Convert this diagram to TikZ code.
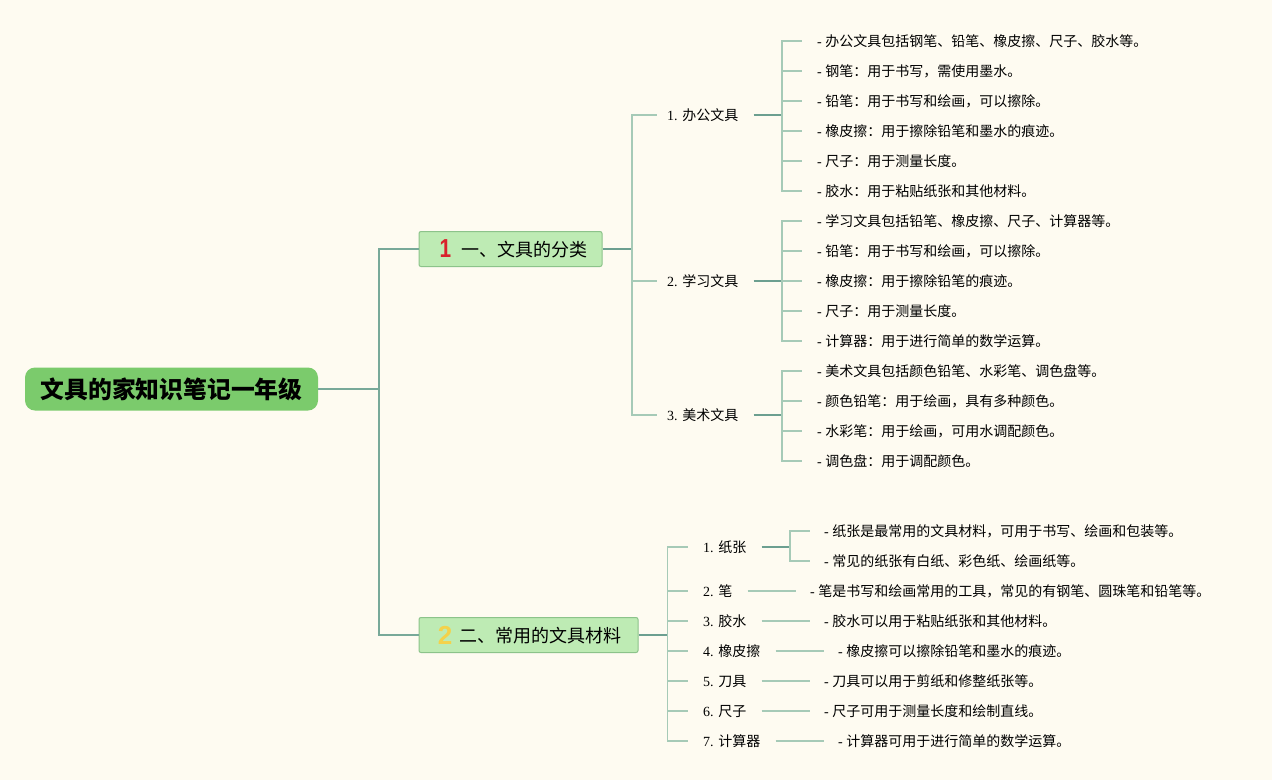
\documentclass[tikz,border=0pt]{standalone}
\usepackage{graphicx}
\usepackage{fontspec}
\setmainfont{Liberation Serif}
\newfontfamily\cjk{Noto Sans CJK SC}
\newfontfamily\numfont{Liberation Sans}
\definecolor{bg}{HTML}{FEFBF1}
\definecolor{rootfill}{HTML}{7BCB6C}
\definecolor{boxfill}{HTML}{BEEBB4}
\definecolor{boxdraw}{HTML}{8CC38A}
\definecolor{dk}{HTML}{6C9F90}
\definecolor{lt}{HTML}{A6CAB7}
\definecolor{mid}{HTML}{78A999}
\definecolor{numred}{HTML}{D9222C}
\definecolor{numyel}{HTML}{F4D24A}
\tikzset{
  rootbox/.style={draw=none, fill=rootfill, rounded corners=10pt, minimum width=293pt, minimum height=43pt, inner sep=0pt, font=\cjk\bfseries\fontsize{23.8}{26}\selectfont},
  topicbox/.style={draw=boxdraw, line width=1pt, fill=boxfill, rounded corners=2pt, minimum height=35pt, inner sep=0pt, font=\cjk\fontsize{18}{20}\selectfont},
  sub/.style={anchor=west, inner sep=0pt, text height=14pt, text depth=3pt, font=\fontsize{14}{16}\selectfont},
  leaf/.style={anchor=west, inner sep=0pt, text height=14pt, text depth=3pt, font=\fontsize{14}{16}\selectfont},
  dkline/.style={draw=dk, line width=2pt},
  ltline/.style={draw=lt, line width=1.5pt},
  midline/.style={draw=mid, line width=2pt},
}
\newcommand\cj[1]{{\cjk #1}}
\newcommand\bignum[2]{{\numfont\bfseries\fontsize{26}{26}\selectfont\color{#1}#2}}
\begin{document}
\begin{tikzpicture}[x=1pt,y=-1pt]
\fill[bg] (0,0) rectangle (1272,780);
\useasboundingbox (0,0) rectangle (1272,780);

% root and topics
\node[rootbox] (root) at (171.5,389) {文具的家知识笔记一年级};
\node[topicbox, minimum width=183pt] (t1) at (510.5,249) {\hspace{6pt}\raisebox{-1.5pt}{\scalebox{0.8}[1]{\bignum{numred}{1}}}\hspace{10pt}一、文具的分类};
\node[topicbox, minimum width=219pt] (t2) at (528.5,635) {\hspace{2pt}\raisebox{-1.5pt}{\bignum{numyel}{2}}\hspace{7pt}二、常用的文具材料};

\coordinate (j0) at (379,389);
\draw[midline] (root.east) -- (j0);
\draw[midline] (j0) |- (t1.west);
\draw[midline] (j0) |- (t2.west);

% topic 1 subtopics
\node[sub] (s1) at (667,115) {1. \cj{办公文具}};
\node[sub] (s2) at (667,281) {2. \cj{学习文具}};
\node[sub] (s3) at (667,415) {3. \cj{美术文具}};
\coordinate (j1) at (632,249);
\draw[dkline] (t1.east) -- (j1);
\foreach \s in {s1,s2,s3} \draw[ltline] (j1) |- ([xshift=-10pt]\s.west);

% leaves of s1
\node[leaf] (a1) at (817,41) {- \cj{办公文具包括钢笔、铅笔、橡皮擦、尺子、胶水等。}};
\node[leaf] (a2) at (817,71) {- \cj{钢笔：用于书写，需使用墨水。}};
\node[leaf] (a3) at (817,101) {- \cj{铅笔：用于书写和绘画，可以擦除。}};
\node[leaf] (a4) at (817,131) {- \cj{橡皮擦：用于擦除铅笔和墨水的痕迹。}};
\node[leaf] (a5) at (817,161) {- \cj{尺子：用于测量长度。}};
\node[leaf] (a6) at (817,191) {- \cj{胶水：用于粘贴纸张和其他材料。}};
\coordinate (k1) at (782,115);
\draw[dkline] ([xshift=15pt]s1.east) -- (k1);
\foreach \l in {a1,a2,a3,a4,a5,a6} \draw[ltline] (k1) |- ([xshift=-15pt]\l.west);

% leaves of s2
\node[leaf] (b1) at (817,221) {- \cj{学习文具包括铅笔、橡皮擦、尺子、计算器等。}};
\node[leaf] (b2) at (817,251) {- \cj{铅笔：用于书写和绘画，可以擦除。}};
\node[leaf] (b3) at (817,281) {- \cj{橡皮擦：用于擦除铅笔的痕迹。}};
\node[leaf] (b4) at (817,311) {- \cj{尺子：用于测量长度。}};
\node[leaf] (b5) at (817,341) {- \cj{计算器：用于进行简单的数学运算。}};
\coordinate (k2) at (782,281);
\draw[dkline] ([xshift=15pt]s2.east) -- (k2);
\foreach \l in {b1,b2,b3,b4,b5} \draw[ltline] (k2) |- ([xshift=-15pt]\l.west);

% leaves of s3
\node[leaf] (c1) at (817,371) {- \cj{美术文具包括颜色铅笔、水彩笔、调色盘等。}};
\node[leaf] (c2) at (817,401) {- \cj{颜色铅笔：用于绘画，具有多种颜色。}};
\node[leaf] (c3) at (817,431) {- \cj{水彩笔：用于绘画，可用水调配颜色。}};
\node[leaf] (c4) at (817,461) {- \cj{调色盘：用于调配颜色。}};
\coordinate (k3) at (782,415);
\draw[dkline] ([xshift=15pt]s3.east) -- (k3);
\foreach \l in {c1,c2,c3,c4} \draw[ltline] (k3) |- ([xshift=-15pt]\l.west);

% topic 2 subtopics
\node[sub] (u1) at (703,547) {1. \cj{纸张}};
\node[sub] (u2) at (703,591) {2. \cj{笔}};
\node[sub] (u3) at (703,621) {3. \cj{胶水}};
\node[sub] (u4) at (703,651) {4. \cj{橡皮擦}};
\node[sub] (u5) at (703,681) {5. \cj{刀具}};
\node[sub] (u6) at (703,711) {6. \cj{尺子}};
\node[sub] (u7) at (703,741) {7. \cj{计算器}};
\coordinate (j2) at (667.5,635);
\draw[dkline] (t2.east) -- (j2);
\foreach \s in {u1,u2,u3,u4,u5,u6,u7} \draw[ltline] (j2) |- ([xshift=-15pt]\s.west);

% leaves of topic 2
\node[leaf] (v1) at (824,531) {- \cj{纸张是最常用的文具材料，可用于书写、绘画和包装等。}};
\node[leaf] (v2) at (824,561) {- \cj{常见的纸张有白纸、彩色纸、绘画纸等。}};
\coordinate (k4) at (790,547);
\draw[dkline] ([xshift=15pt]u1.east) -- (k4);
\draw[ltline] (k4) |- ([xshift=-14pt]v1.west);
\draw[ltline] (k4) |- ([xshift=-14pt]v2.west);

\node[leaf] (w2) at (810,591) {- \cj{笔是书写和绘画常用的工具，常见的有钢笔、圆珠笔和铅笔等。}};
\node[leaf] (w3) at (824,621) {- \cj{胶水可以用于粘贴纸张和其他材料。}};
\node[leaf] (w4) at (838,651) {- \cj{橡皮擦可以擦除铅笔和墨水的痕迹。}};
\node[leaf] (w5) at (824,681) {- \cj{刀具可以用于剪纸和修整纸张等。}};
\node[leaf] (w6) at (824,711) {- \cj{尺子可用于测量长度和绘制直线。}};
\node[leaf] (w7) at (838,741) {- \cj{计算器可用于进行简单的数学运算。}};
\draw[ltline] ([xshift=15pt]u2.east) -- ([xshift=-14pt]w2.west);
\draw[ltline] ([xshift=15pt]u3.east) -- ([xshift=-14pt]w3.west);
\draw[ltline] ([xshift=15pt]u4.east) -- ([xshift=-14pt]w4.west);
\draw[ltline] ([xshift=15pt]u5.east) -- ([xshift=-14pt]w5.west);
\draw[ltline] ([xshift=15pt]u6.east) -- ([xshift=-14pt]w6.west);
\draw[ltline] ([xshift=15pt]u7.east) -- ([xshift=-14pt]w7.west);
\end{tikzpicture}
\end{document}
